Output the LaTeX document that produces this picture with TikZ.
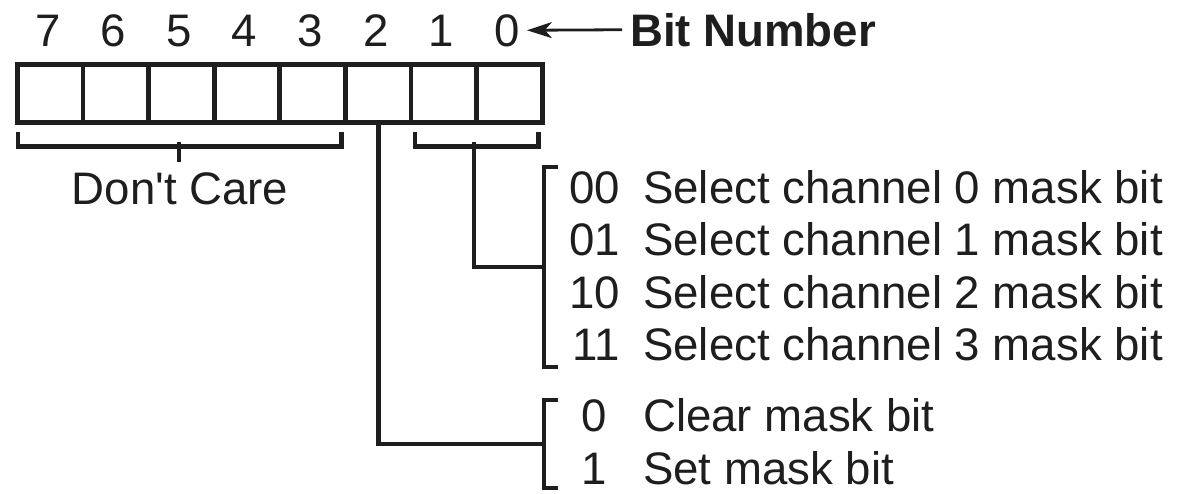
\documentclass[tikz,border=0pt]{standalone}
\usepackage{fontspec}
\setmainfont{Liberation Sans}[Ligatures=TeXOff]
\usetikzlibrary{arrows.meta}
\definecolor{ink}{RGB}{30,30,30}
\begin{document}
\begin{tikzpicture}[x=1pt,y=-1pt,
  ln/.style={line width=4.8pt, draw=ink},
  cell/.style={draw=ink, line width=4.8pt, minimum width=65.6pt, minimum height=58pt, inner sep=0pt, anchor=north west},
  txt/.style={inner sep=0pt, font=\fontsize{45.6pt}{53pt}\selectfont, text=ink},
  boldtxt/.style={txt, font=\fontsize{45.6pt}{53pt}\selectfont\bfseries},
  pointer/.style={line width=2.8pt, draw=ink, -{Stealth[length=25pt, width=16pt, inset=7pt]}}
]
\useasboundingbox (0,0) rectangle (1177,493);
% register cells and bit numbers
\foreach \b [count=\i from 0] in {7,6,5,4,3,2,1,0} {
  \node[cell] (c\b) at ({15+65.6*\i},62) {};
  \node[txt, anchor=base] (d\b) at ({47.8+65.6*\i},46) {\b};
}
% Bit Number label
\node[boldtxt, anchor=base west] (bn) at (630,46) {Bit Number};
\draw[pointer, shorten <=8pt, shorten >=7pt] (bn.west) -- (d0.east);

% Don't Care bracket
\coordinate (dcl) at ([shift={(3,7)}]c7.south west);
\coordinate (dcr) at ([shift={(-6,7)}]c3.south east);
\draw[ln] (dcl) -- ++(0,15) -| (dcr);
\node[txt, anchor=base] (dc) at (180,204) {Don't Care};
\coordinate (dcm) at (179,142);
\draw[ln] (dcm) -- ++(0,20);

% bits 1-0 bracket
\coordinate (sl) at ([shift={(6.4,7)}]c1.south west);
\coordinate (sr) at ([shift={(-6,7)}]c0.south east);
\draw[ln] (sl) -- ++(0,15) -| (sr);
\coordinate (s10) at (474,142);

% right-hand brackets
\coordinate (bt1) at (544,167);
\coordinate (bb1) at (544,367);
\draw[ln] ([shift={(14,0)}]bt1) -- (bt1) -- (bb1) -- ++(14,0);
\path (bt1) -- (bb1) coordinate[pos=0.5] (bm1);
\coordinate (bt2) at (544,400);
\coordinate (bb2) at (544,488);
\draw[ln] ([shift={(14,0)}]bt2) -- (bt2) -- (bb2) -- ++(14,0);
\path (bt2) -- (bb2) coordinate[pos=0.5] (bm2);

% connectors
\draw[ln] (s10) |- (bm1);
\draw[ln] (c2.south) |- (bm2);

% channel select rows
\foreach \code/\chan [count=\r from 0] in {00/0,01/1,10/2,11/3} {
  \node[txt, anchor=base east] (k\r) at (620,{203+52.5*\r}) {\code};
  \node[txt, anchor=base west] (t\r) at (643,{203+52.5*\r}) {Select channel \chan\ mask bit};
}
% mask rows
\node[txt, anchor=base east] (m0) at (607,431) {0};
\node[txt, anchor=base west] (mt0) at (643,431) {Clear mask bit};
\node[txt, anchor=base east] (m1) at (607,484) {1};
\node[txt, anchor=base west] (mt1) at (643,484) {Set mask bit};
\end{tikzpicture}
\end{document}
